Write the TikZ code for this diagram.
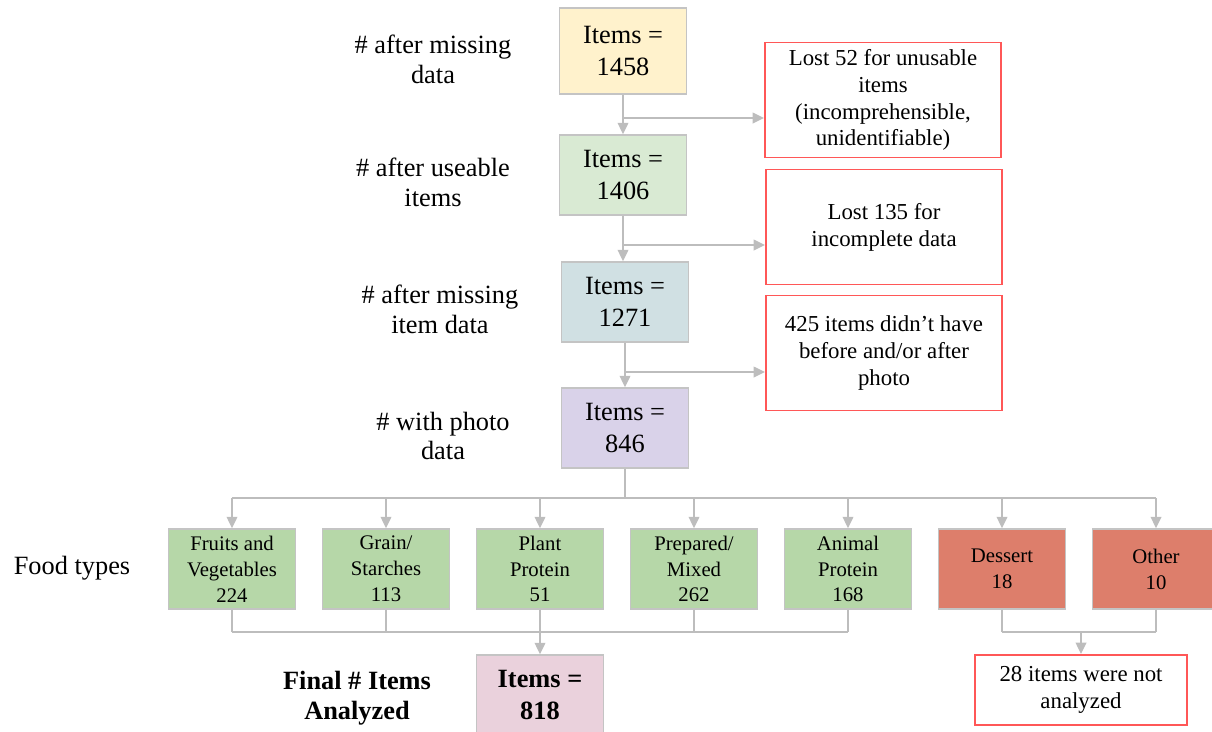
\documentclass[tikz,border=0pt]{standalone}
\usepackage{fontspec}
\setmainfont{Liberation Serif}
\usetikzlibrary{arrows.meta}
\definecolor{boxgray}{HTML}{C4C4C4}
\definecolor{arrowgray}{HTML}{BDBDBD}
\definecolor{lossred}{HTML}{FF5757}
\definecolor{startyellow}{HTML}{FFF2CC}
\definecolor{usegreen}{HTML}{D9EAD3}
\definecolor{itemblue}{HTML}{D0E0E3}
\definecolor{photopurple}{HTML}{D9D2E9}
\definecolor{foodgreen}{HTML}{B6D7A8}
\definecolor{droppedred}{HTML}{DD7E6B}
\definecolor{finalpink}{HTML}{EAD1DC}
\tikzset{
  countbox/.style={draw=boxgray, line width=0.85pt, minimum width=2.54cm, minimum height=1.6cm, align=center, font=\fontsize{15}{18}\selectfont},
  lossbox/.style={draw=lossred, line width=1.1pt, fill=white, minimum width=4.72cm, minimum height=2.3cm, align=center, font=\fontsize{13}{15.3}\selectfont},
  foodbox/.style={draw=boxgray, line width=0.85pt, minimum width=2.54cm, minimum height=1.6cm, align=center, font=\fontsize{11.8}{14.7}\selectfont},
  steplabel/.style={align=center, font=\fontsize{15}{17}\selectfont},
  link/.style={draw=arrowgray, line width=1.1pt},
  flow/.style={link, -{Triangle[length=6.5pt,width=6pt]}},
}
\begin{document}
\begin{tikzpicture}[x=0.02cm,y=-0.02cm]
    \useasboundingbox (0,0) rectangle (1212,731);
    % main chain
    \node[countbox, fill=startyellow, minimum height=1.72cm] (start) at (623,51) {Items =\\1458};
    \node[countbox, fill=usegreen] (useable) at (623,175) {Items =\\1406};
    \node[countbox, fill=itemblue] (itemdata) at (625,302) {Items =\\1271};
    \node[countbox, fill=photopurple] (photo) at (625,428) {Items =\\846};
    \node[steplabel] (lstart) at (433,59) {\# after missing\\data};
    \node[steplabel] (luseable) at (433,182) {\# after useable\\items};
    \node[steplabel] (litemdata) at (440,309) {\# after missing\\item data};
    \node[steplabel] (lphoto) at (443,436) {\# with photo\\data};
    % losses
    \node[lossbox] (lossa) at (883,100) {Lost 52 for unusable\\items\\(incomprehensible,\\unidentifiable)};
    \node[lossbox] (lossb) at (884,227) {Lost 135 for\\incomplete data};
    \node[lossbox] (lossc) at (884,353) {425 items didn’t have\\before and/or after\\photo};
    \coordinate (ja) at (623,118);
    \coordinate (jb) at (623,245);
    \coordinate (jc) at (625,372);
    \draw[flow] (start.south) -- (useable.north);
    \draw[flow] (useable.south) -- (useable.south |- itemdata.north);
    \draw[flow] (itemdata.south) -- (photo.north);
    \draw[flow] (ja) -- (ja -| lossa.west);
    \draw[flow] (jb) -- (jb -| lossb.west);
    \draw[flow] (jc) -- (jc -| lossc.west);
    % food types
    \node[steplabel] (lfood) at (72,568) {Food types};
    \foreach \name/\x/\col/\txt in {fv/232/foodgreen/{Fruits and\\Vegetables\\224}, gs/386/foodgreen/{Grain/\\Starches\\113}, pp/540/foodgreen/{Plant\\Protein\\51}, pm/694/foodgreen/{Prepared/\\Mixed\\262}, ap/848/foodgreen/{Animal\\Protein\\168}, ds/1002/droppedred/{Dessert\\18}, ot/1156/droppedred/{Other\\10}}
        \node[foodbox, fill=\col] (\name) at (\x,569) {\txt};
    \coordinate (split) at (0,498);
    \coordinate (merge) at (0,632);
    \draw[link] (photo.south) -- (photo.south |- split);
    \draw[link] (fv.north |- split) -- (ot.north |- split);
    \foreach \n in {fv,gs,pp,pm,ap,ds,ot} \draw[flow] (\n.north |- split) -- (\n.north);
    % result
    \node[countbox, fill=finalpink, font=\fontsize{15}{18}\selectfont\bfseries] (final) at (540,695) {Items =\\818};
    \node[steplabel, font=\fontsize{15}{17}\selectfont\bfseries] (lfinal) at (357,698) {Final \# Items\\Analyzed};
    \node[lossbox, minimum width=4.24cm, minimum height=1.4cm] (notused) at (1081,690) {28 items were not\\analyzed};
    \foreach \n in {fv,gs,pm,ap,ds,ot} \draw[link] (\n.south) -- (\n.south |- merge);
    \draw[link] (fv.south |- merge) -- (ap.south |- merge);
    \draw[link] (ds.south |- merge) -- (ot.south |- merge);
    \draw[flow] (pp.south) -- (final.north);
    \draw[flow] (notused.north |- merge) -- (notused.north);
\end{tikzpicture}
\end{document}
